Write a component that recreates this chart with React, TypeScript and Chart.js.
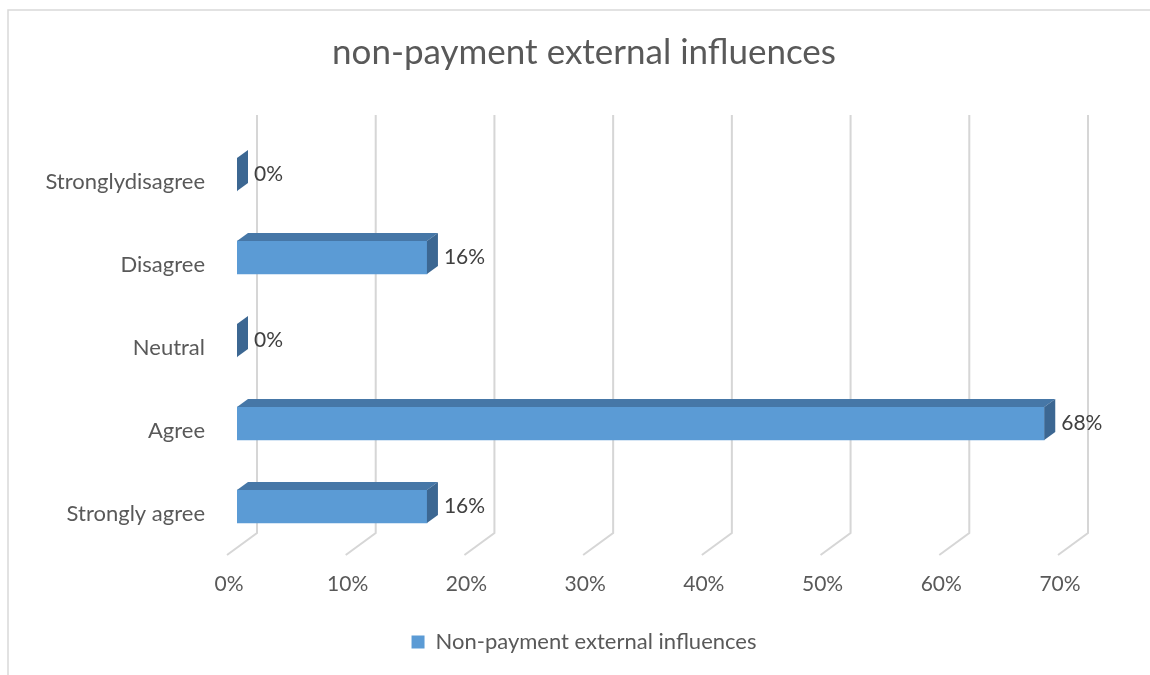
import React, { useEffect, useRef } from "react";
import { Chart, registerables } from "chart.js";

Chart.register(...registerables);

// ---- data ----
const categories = ["Strongly agree", "Agree", "Neutral", "Disagree", "Stronglydisagree"];
const values = [16, 68, 0, 16, 0];
const seriesName = "Non-payment external influences";
const titleText = "non-payment external influences";
const xMin = 0;
const xMax = 70;
const xStep = 10;

// ---- style ----
const FONT = "Lato, 'Open Sans', sans-serif";
const TEXT = "#595959";
const LABEL = "#404040";
const FRONT = "#5b9bd5";
const TOP = "#4677a7";
const SIDE = "#3c6792";
const GRID = "#d6d6d6";
const DX = 11; // bar depth x
const DY = 8; // bar depth y

const threeD = {
  id: "threeD",
  beforeDraw(chart: any) {
    const { ctx } = chart;
    ctx.save();
    ctx.fillStyle = "#ffffff";
    ctx.fillRect(0, 0, chart.width, chart.height);
    ctx.strokeStyle = "#d9d9d9";
    ctx.lineWidth = 1.5;
    ctx.beginPath();
    ctx.moveTo(8, chart.height + 5);
    ctx.lineTo(8, 10);
    ctx.lineTo(chart.width + 5, 10);
    ctx.stroke();
    ctx.restore();
  },
  beforeDatasetsDraw(chart: any) {
    const { ctx, chartArea } = chart;
    const xs = chart.scales.x;
    ctx.save();
    ctx.strokeStyle = GRID;
    ctx.lineWidth = 2;
    xs.ticks.forEach((t: any) => {
      const px = xs.getPixelForValue(t.value);
      const bx = px + 20;
      const topY = chartArea.top - 18;
      const floorY = chartArea.bottom - 15;
      ctx.beginPath();
      ctx.moveTo(bx, topY);
      ctx.lineTo(bx, floorY);
      ctx.lineTo(bx - 30, floorY + 22);
      ctx.stroke();
    });
    ctx.restore();
  },
  afterDatasetsDraw(chart: any) {
    const { ctx } = chart;
    const meta = chart.getDatasetMeta(0);
    ctx.save();
    meta.data.forEach((bar: any, i: number) => {
      const { x, y, base, height } = bar.getProps(["x", "y", "base", "height"], true);
      const top = y - height / 2;
      const bottom = y + height / 2;
      const left = Math.min(x, base);
      const right = Math.max(x, base);
      // top face
      ctx.fillStyle = TOP;
      ctx.beginPath();
      ctx.moveTo(left, top);
      ctx.lineTo(left + DX, top - DY);
      ctx.lineTo(right + DX, top - DY);
      ctx.lineTo(right, top);
      ctx.closePath();
      ctx.fill();
      // side face
      ctx.fillStyle = SIDE;
      ctx.beginPath();
      ctx.moveTo(right, top);
      ctx.lineTo(right + DX, top - DY);
      ctx.lineTo(right + DX, bottom - DY);
      ctx.lineTo(right, bottom);
      ctx.closePath();
      ctx.fill();
      // data label
      ctx.fillStyle = LABEL;
      ctx.font = `21px ${FONT}`;
      ctx.textAlign = "left";
      ctx.textBaseline = "middle";
      ctx.fillText(`${values[i]}%`, right + DX + 6, y);
    });
    ctx.restore();
  },
};

export default function App() {
  const ref = useRef<HTMLCanvasElement | null>(null);
  useEffect(() => {
    if (!ref.current) return;
    const chart = new Chart(ref.current, {
      type: "bar",
      data: {
        labels: categories,
        datasets: [
          {
            label: seriesName,
            data: values,
            backgroundColor: FRONT,
            borderWidth: 0,
            barThickness: 33,
          },
        ],
      },
      options: {
        responsive: false,
        animation: false,
        indexAxis: "y",
        layout: { padding: { left: 20, right: 2, top: 0, bottom: 12 } },
        plugins: {
          title: {
            display: true,
            text: titleText,
            color: TEXT,
            font: { family: FONT, size: 35, weight: "normal" },
            padding: { top: 32, bottom: 59 },
          },
          legend: {
            position: "bottom",
            labels: {
              color: TEXT,
              font: { family: FONT, size: 22 },
              boxWidth: 13,
              boxHeight: 13,
              padding: 10,
            },
          },
          tooltip: { enabled: false },
        },
        scales: {
          x: {
            min: xMin,
            max: xMax,
            ticks: {
              stepSize: xStep,
              callback: (v: any) => `${v}%`,
              color: TEXT,
              font: { family: FONT, size: 21 },
              padding: 24,
              labelOffset: -8,
              maxRotation: 0,
            },
            grid: { display: false, drawTicks: false },
            border: { display: false },
            afterFit: (s: any) => {
              s.height = 73;
            },
          },
          y: {
            reverse: true,
            ticks: {
              color: TEXT,
              font: { family: FONT, size: 22 },
              padding: 32,
              labelOffset: 7,
            },
            grid: { display: false, drawTicks: false },
            border: { display: false },
            afterFit: (s: any) => {
              s.width = 217;
            },
          },
          yRight: {
            type: "category",
            position: "right",
            ticks: { display: false },
            grid: { display: false, drawTicks: false },
            border: { display: false },
            afterFit: (s: any) => {
              s.width = 80;
            },
          },
        },
      },
      plugins: [threeD],
    });
    return () => chart.destroy();
  }, []);
  return (
    <div style={{ position: "absolute", left: 0, top: 0, width: 1150, height: 675 }}>
      <canvas ref={ref} width={1150} height={675} />
    </div>
  );
}
